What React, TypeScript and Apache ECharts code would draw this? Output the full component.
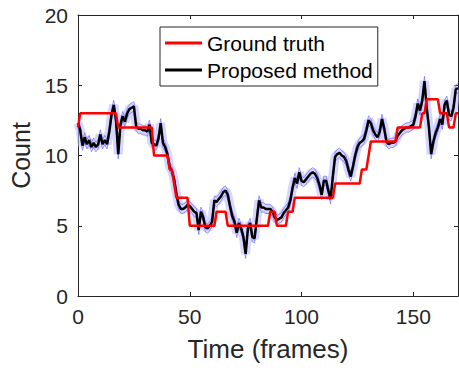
import React, { useEffect, useRef } from "react";
import * as echarts from "echarts";

// Proposed method count per frame (frames 0..170)
const proposedCounts: number[] = [
  12.3, 11.8, 10.7, 11.3, 10.8, 11.1, 10.6, 10.9, 10.6, 10.8,
  11.5, 10.8, 11.1, 10.8, 11.7, 12.9, 13.6, 12.5, 10.1, 12.2,
  12.8, 12.4, 13.0, 13.3, 13.4, 13.5, 12.1, 11.9, 11.9, 11.8,
  11.8, 11.7, 12.2, 10.9, 10.8, 10.7, 11.2, 12.3, 10.9, 10.6,
  10.1, 9.2, 8.9, 8.3, 7.3, 6.5, 6.2, 6.2, 6.3, 6.5,
  6.4, 6.2, 6.0, 5.9, 4.7, 6.0, 5.6, 4.9, 4.8, 5.0,
  5.3, 6.8, 6.7, 6.9, 7.1, 7.4, 7.5, 7.2, 6.4, 5.7,
  5.3, 4.5, 5.2, 4.8, 4.2, 3.0, 4.8, 5.2, 4.2, 4.1,
  5.5, 6.8, 6.3, 6.3, 6.2, 6.2, 6.2, 6.0, 5.6, 5.4,
  5.5, 5.6, 5.9, 6.1, 6.3, 6.8, 7.7, 8.4, 8.0, 8.8,
  8.2, 8.1, 8.3, 8.5, 8.7, 8.8, 8.7, 8.4, 7.9, 7.2,
  8.2, 8.2, 7.5, 6.9, 8.5, 9.9, 10.1, 10.2, 10.0, 9.9,
  9.6, 9.0, 8.5, 9.2, 10.0, 10.6, 10.9, 11.0, 11.2, 11.8,
  12.5, 12.3, 11.8, 11.5, 11.3, 11.7, 12.6, 11.9, 11.0, 10.8,
  10.9, 10.9, 11.0, 11.4, 11.6, 11.8, 11.9, 12.0, 12.0, 12.1,
  12.2, 12.8, 13.7, 13.2, 13.9, 15.3, 13.4, 12.0, 10.1, 11.0,
  11.6, 12.0, 12.6, 12.2, 13.6, 13.9, 12.9, 12.8, 13.4, 14.7,
  14.8,
];

// Half width of the uncertainty band around the proposed method
const bandHalfWidth = 0.33;

// Ground truth break points
const gtFrames: number[] = [
  0, 1, 17, 18, 33, 34, 40, 41, 42, 44, 49, 50, 61, 62, 66, 67, 85, 86, 88, 89,
  93, 94, 96, 97, 114, 115, 126, 127, 129, 131, 142, 143, 153, 154, 155, 156,
  161, 162, 165, 166, 168, 169, 170,
];
const gtCounts: number[] = [
  12, 13, 13, 12, 12, 10, 10, 9, 9, 7, 7, 5, 5, 6, 6, 5, 5, 6, 6, 5,
  5, 6, 6, 7, 7, 8, 8, 9, 9, 11, 11, 12, 12, 13, 13, 14,
  14, 13, 13, 12, 12, 13, 13,
];

const xTicks = { min: 0, max: 170, interval: 50 };
const yTicks = { min: 0, max: 20, interval: 5 };
const legendNames = ["Ground truth", "Proposed method"];

const FONT = "'Liberation Sans', Arial, Helvetica, sans-serif";
const AXIS_COLOR = "#262626";

export default function App() {
  const ref = useRef<HTMLDivElement>(null);

  useEffect(() => {
    if (!ref.current) return;
    const chart = echarts.init(ref.current, undefined, { renderer: "svg" });

    const proposed = proposedCounts.map((v, i) => [i, v]);
    const lower = proposedCounts.map((v, i) => [i, v - bandHalfWidth]);
    const upper = proposedCounts.map((v, i) => [i, v + bandHalfWidth]);
    const gt = gtFrames.map((f, i) => [f, gtCounts[i]]);

    const tickLabel = { color: AXIS_COLOR, fontSize: 21, fontFamily: FONT };

    chart.setOption({
      animation: false,
      backgroundColor: "#ffffff",
      grid: { left: 78, top: 15, width: 380, height: 281, containLabel: false },
      legend: {
        data: legendNames.map((n) => ({ name: n, icon: "rect" })),
        orient: "vertical",
        left: 160,
        top: 27,
        itemWidth: 37,
        itemHeight: 3,
        itemGap: 3,
        padding: [4, 5, 4, 5],
        borderColor: AXIS_COLOR,
        borderWidth: 1,
        backgroundColor: "#ffffff",
        textStyle: { fontSize: 21, fontFamily: FONT, color: "#000", lineHeight: 24 },
      },
      xAxis: [
        {
          type: "value",
          ...xTicks,
          name: "Time (frames)",
          nameLocation: "middle",
          nameGap: 40,
          nameTextStyle: { fontSize: 26, fontFamily: FONT, color: AXIS_COLOR },
          axisLine: { show: true, lineStyle: { color: AXIS_COLOR, width: 1 } },
          axisTick: { show: true, inside: true, length: 4, lineStyle: { color: AXIS_COLOR } },
          axisLabel: { ...tickLabel, margin: 10, showMaxLabel: false },
          splitLine: { show: false },
        },
        {
          type: "value",
          position: "top",
          ...xTicks,
          axisLine: { show: true, onZero: false, lineStyle: { color: AXIS_COLOR, width: 1 } },
          axisTick: { show: true, inside: true, length: 4, lineStyle: { color: AXIS_COLOR } },
          axisLabel: { show: false },
          splitLine: { show: false },
        },
      ],
      yAxis: [
        {
          type: "value",
          ...yTicks,
          name: "Count",
          nameLocation: "middle",
          nameGap: 40,
          nameTextStyle: { fontSize: 25, fontFamily: FONT, color: AXIS_COLOR },
          axisLine: { show: true, lineStyle: { color: AXIS_COLOR, width: 1 } },
          axisTick: { show: true, inside: true, length: 4, lineStyle: { color: AXIS_COLOR } },
          axisLabel: { ...tickLabel, margin: 10 },
          splitLine: { show: false },
        },
        {
          type: "value",
          position: "right",
          ...yTicks,
          axisLine: { show: true, onZero: false, lineStyle: { color: AXIS_COLOR, width: 1 } },
          axisTick: { show: true, inside: true, length: 4, lineStyle: { color: AXIS_COLOR } },
          axisLabel: { show: false },
          splitLine: { show: false },
        },
      ],
      series: [
        {
          name: "bandFill",
          type: "line",
          data: proposed,
          symbol: "none",
          lineStyle: { color: "rgba(185,185,255,0.6)", width: 9 },
          silent: true,
        },
        {
          name: "bandUpper",
          type: "line",
          data: upper,
          symbol: "none",
          lineStyle: { color: "rgba(110,110,255,0.75)", width: 1 },
          silent: true,
        },
        {
          name: "bandLower",
          type: "line",
          data: lower,
          symbol: "none",
          lineStyle: { color: "rgba(110,110,255,0.75)", width: 1 },
          silent: true,
        },
        {
          name: "Proposed method",
          type: "line",
          data: proposed,
          symbol: "none",
          itemStyle: { color: "#000000" },
          lineStyle: { color: "#000000", width: 2.5 },
        },
        {
          name: "Ground truth",
          type: "line",
          data: gt,
          symbol: "none",
          itemStyle: { color: "#ff0000" },
          lineStyle: { color: "#ff0000", width: 2.5 },
        },
      ],
    });

    return () => chart.dispose();
  }, []);

  return (
    <div
      ref={ref}
      style={{ position: "fixed", left: 0, top: 0, width: 459, height: 371, background: "#fff" }}
    />
  );
}
